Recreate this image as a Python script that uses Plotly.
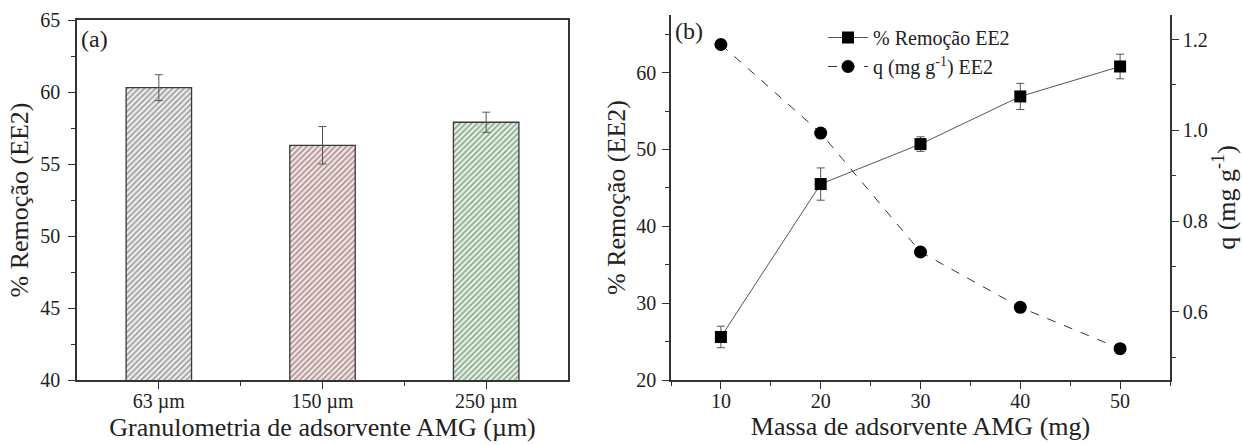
import plotly.graph_objects as go

# ---- data: panel (a)
categories = ["63 µm", "150 µm", "250 µm"]
removal_a = [60.3, 56.3, 57.9]
err_a = [0.9, 1.3, 0.7]
bar_fg = ["#666666", "#df8f95", "#8fd49c"]
bar_bg = ["#efefef", "#fbe3e3", "#e0f7e2"]

# ---- data: panel (b)
mass = [10, 20, 30, 40, 50]
removal_b = [25.6, 45.5, 50.7, 56.9, 60.8]
err_b = [1.4, 2.1, 0.95, 1.7, 1.6]
q_vals = [1.189, 0.994, 0.732, 0.610, 0.519]

FONT = "Liberation Serif"
AX = "#333333"

pos = list(range(len(categories)))
mids = [p + 0.5 for p in pos[:-1]]

fig = go.Figure()

fig.add_trace(go.Bar(
    x=pos, y=removal_a, width=0.4,
    marker=dict(color=bar_bg, line=dict(color="#3a3a3a", width=1.3),
                pattern=dict(shape="/", fgcolor=bar_fg, bgcolor=bar_bg, size=4, solidity=0.4)),
    error_y=dict(type="data", array=err_a, color="#555555", thickness=1, width=4),
    xaxis="x", yaxis="y", showlegend=False,
))

fig.add_trace(go.Scatter(
    x=mass, y=removal_b, mode="lines+markers", name="% Remoção EE2",
    line=dict(color="#555555", width=1),
    marker=dict(symbol="square", size=12, color="black"),
    error_y=dict(type="data", array=err_b, color="#555555", thickness=1, width=4),
    xaxis="x2", yaxis="y2",
))
fig.add_trace(go.Scatter(
    x=mass, y=q_vals, mode="lines+markers", name="q (mg g<sup>-1</sup>) EE2",
    line=dict(color="#333333", width=1, dash="dash"),
    marker=dict(symbol="circle", size=13, color="black"),
    xaxis="x2", yaxis="y3",
))

tickfont = dict(family=FONT, size=20, color="#222")
titlefont = dict(family=FONT, size=26, color="#222")

common = dict(showline=True, linecolor=AX, linewidth=1.5, showgrid=False, zeroline=False,
              tickcolor=AX, tickwidth=1.3, ticklen=7, tickfont=tickfont, automargin=False)

ya = [1 - 380 / 445, 1 - 20 / 445]
yb = [1 - 380 / 445, 1 - 15 / 445]

fig.update_layout(
    width=1242, height=445,
    margin=dict(l=0, r=0, t=0, b=0),
    paper_bgcolor="white", plot_bgcolor="white",
    font=dict(family=FONT, color="#222"),
    xaxis=dict(domain=[77 / 1242, 568 / 1242], anchor="y", range=[-0.5, 2.5],
               tickmode="array", tickvals=pos, ticktext=categories, ticks="outside",
               mirror=True, ticklabelstandoff=-5,
               minor=dict(tickmode="array", tickvals=mids, ticks="outside", ticklen=4,
                          tickcolor=AX, tickwidth=1.3),
               title=dict(text="Granulometria de adsorvente AMG (µm)", font=titlefont, standoff=4),
               **common),
    xaxis3=dict(overlaying="x", anchor="y", side="top", range=[-0.5, 2.5],
                tickmode="array", tickvals=pos, showticklabels=False, ticks="inside",
                showline=False, showgrid=False, zeroline=False, tickcolor=AX, tickwidth=1.3, ticklen=7,
                minor=dict(tickmode="array", tickvals=mids, ticks="inside", ticklen=4,
                           tickcolor=AX, tickwidth=1.3)),
    yaxis=dict(domain=ya, anchor="x", range=[40, 65], dtick=5, tick0=0, ticks="outside",
               mirror=True, ticklabelstandoff=4,
               minor=dict(dtick=2.5, tick0=0, ticks="outside", ticklen=4, tickcolor=AX, tickwidth=1.3),
               title=dict(text="% Remoção (EE2)", font=titlefont, standoff=4),
               **common),
    xaxis2=dict(domain=[671 / 1242, 1170 / 1242], anchor="y2", range=[5, 55], dtick=10, tick0=0,
                ticks="outside", ticklabelstandoff=-5,
                minor=dict(dtick=5, tick0=0, ticks="outside", ticklen=4, tickcolor=AX, tickwidth=1.3),
                title=dict(text="Massa de adsorvente AMG (mg)", font=titlefont, standoff=4),
                **common),
    xaxis4=dict(overlaying="x2", anchor="y2", side="top", range=[5, 55], dtick=10, tick0=0,
                showticklabels=False, ticks="inside", showline=True, linecolor=AX, linewidth=1.5,
                showgrid=False, zeroline=False, tickcolor=AX, tickwidth=1.3, ticklen=7,
                minor=dict(dtick=5, tick0=0, ticks="inside", ticklen=4, tickcolor=AX, tickwidth=1.3)),
    yaxis2=dict(domain=yb, anchor="x2", range=[20, 67.5], dtick=10, tick0=0, ticks="outside",
                ticklabelstandoff=2,
                minor=dict(dtick=5, tick0=0, ticks="outside", ticklen=4, tickcolor=AX, tickwidth=1.3),
                title=dict(text="% Remoção (EE2)", font=titlefont, standoff=3),
                **common),
    yaxis3=dict(overlaying="y2", anchor="x2", side="right", range=[0.45, 1.254], dtick=0.2, tick0=0,
                ticks="outside", tickformat=".1f",
                minor=dict(dtick=0.1, tick0=0, ticks="outside", ticklen=4, tickcolor=AX, tickwidth=1.3),
                title=dict(text="q (mg g<sup>-1</sup>)", font=titlefont, standoff=4),
                **common),
    legend=dict(x=823 / 1242, y=1 - 18 / 445, xanchor="left", yanchor="top",
                bgcolor="rgba(0,0,0,0)", font=dict(family=FONT, size=20, color="#222"),
                itemwidth=40, tracegroupgap=0),
    annotations=[
        dict(text="(a)", x=0.005, y=0.99, xref="x domain", yref="y domain", xanchor="left",
             yanchor="top", showarrow=False, font=dict(family=FONT, size=24, color="#222")),
        dict(text="(b)", x=0.005, y=0.997, xref="x2 domain", yref="y2 domain", xanchor="left",
             yanchor="top", showarrow=False, font=dict(family=FONT, size=24, color="#222")),
    ],
)

fig.write_html("out.html")
